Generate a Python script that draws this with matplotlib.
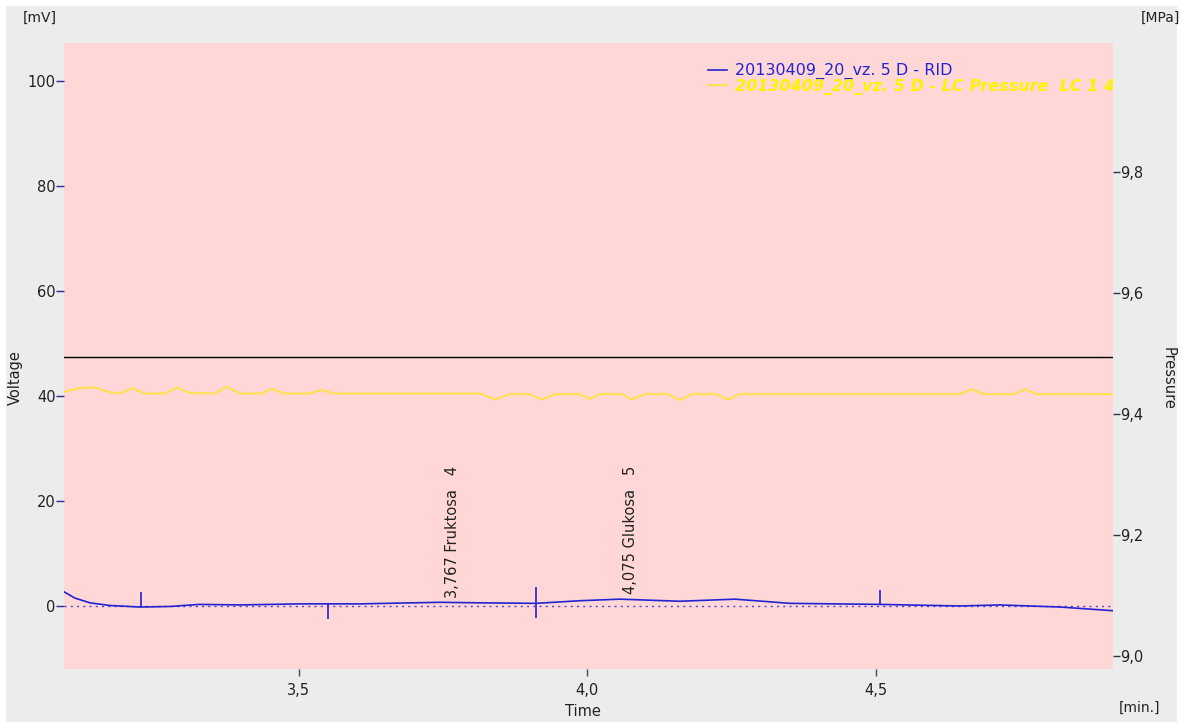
#chromatogram of the RID signal with the pump pressure trace

import matplotlib
matplotlib.use('Agg')
import matplotlib.pyplot as plt
from matplotlib.patches import Rectangle
from matplotlib.ticker import FuncFormatter

# RID signal [mV] vs time [min.]
rid_time = [3.093, 3.112, 3.138, 3.172, 3.224, 3.276, 3.328, 3.398, 3.502, 3.606,
            3.744, 3.814, 3.911, 3.987, 4.056, 4.160, 4.256, 4.351, 4.507, 4.646,
            4.715, 4.819, 4.911]
rid_mv = [2.7, 1.5, 0.6, 0.1, -0.2, -0.1, 0.3, 0.2, 0.4, 0.4,
          0.7, 0.6, 0.5, 1.0, 1.3, 0.9, 1.3, 0.5, 0.3, 0.0,
          0.2, -0.2, -0.9]

# pump pressure [MPa] vs time [min.]
p_time = [3.093, 3.120, 3.146, 3.172, 3.190, 3.211, 3.233, 3.268, 3.289, 3.311,
          3.354, 3.375, 3.398, 3.436, 3.453, 3.474, 3.519, 3.540, 3.561, 3.814,
          3.840, 3.866, 3.900, 3.921, 3.944, 3.987, 4.004, 4.022, 4.060, 4.077,
          4.100, 4.140, 4.160, 4.181, 4.223, 4.244, 4.264, 4.646, 4.666, 4.687,
          4.740, 4.758, 4.779, 4.911]
p_mpa = [9.437, 9.443, 9.444, 9.436, 9.434, 9.443, 9.434, 9.434, 9.444, 9.435,
         9.434, 9.445, 9.434, 9.434, 9.442, 9.434, 9.434, 9.440, 9.434, 9.434,
         9.424, 9.433, 9.433, 9.424, 9.433, 9.433, 9.425, 9.433, 9.433, 9.424,
         9.433, 9.433, 9.423, 9.433, 9.433, 9.424, 9.433, 9.433, 9.441, 9.433,
         9.433, 9.441, 9.433, 9.433]

# integration boundaries (time, low, high) [mV]
mark_time = [3.226, 3.550, 3.911, 4.507]
mark_low = [-0.2, -2.5, -2.3, 0.2]
mark_high = [2.7, 0.5, 3.6, 3.0]

# identified peaks
peak_time = [3.767, 4.075]
peak_mv = [0.7, 1.3]
peak_name = ['Fruktosa', 'Glukosa']
peak_no = [4, 5]

threshold_mv = 47.4

x_ticks = [3.5, 4.0, 4.5]
v_ticks = [0, 20, 40, 60, 80, 100]
p_ticks = [9.0, 9.2, 9.4, 9.6, 9.8]

blue = '#2323d2'
yellow = '#ffdf55'
pink = '#ffd7d7'
gray = '#ececec'
txt = '#222222'

plt.rcParams['font.family'] = 'DejaVu Sans'
plt.rcParams['font.size'] = 10

fig = plt.figure(figsize=(11.83, 7.22), dpi=100, facecolor='white')
fig.patches.append(Rectangle((6 / 1183, 0), 1171 / 1183, 716 / 722,
                             transform=fig.transFigure, facecolor=gray,
                             edgecolor='none', zorder=-10))

ax = fig.add_axes([64 / 1183, 53 / 722, 1049 / 1183, 626 / 722])
ax2 = ax.twinx()

ax.set_xlim(3.093, 4.911)
ax.set_ylim(-12, 107.2)
ax2.set_ylim(8.979, 10.013)

# pressure on the right axis, drawn under the signal
ax2.plot(p_time, p_mpa, color=yellow, lw=1.6,
         label='20130409_20_vz. 5 D - LC Pressure  LC 1 4')
ax.set_zorder(ax2.get_zorder() + 1)
ax.patch.set_visible(False)
ax2.patch.set_visible(True)
ax2.patch.set_facecolor(pink)

ax.axhline(threshold_mv, color='black', lw=1)
ax.axhline(0, color=blue, lw=1, ls=(0, (1.5, 3)), alpha=0.8)
sig, = ax.plot(rid_time, rid_mv, color=blue, lw=1.2, label='20130409_20_vz. 5 D - RID')
ax.vlines(mark_time, mark_low, mark_high, color=blue, lw=1.2)

for t, v, name, no in zip(peak_time, peak_mv, peak_name, peak_no):
    s = f'{t:.3f}'.replace('.', ',') + f' {name}   {no}'
    ax.text(t, v + 0.9, s, rotation=90, ha='center', va='bottom', color=txt, fontsize=10.5)

comma = FuncFormatter(lambda v, pos: f'{v:.1f}'.replace('.', ','))
ax.set_xticks(x_ticks)
ax.xaxis.set_major_formatter(comma)
ax.set_yticks(v_ticks)
ax2.set_yticks(p_ticks)
ax2.yaxis.set_major_formatter(comma)

ax.tick_params(axis='x', length=5, width=1, pad=5, color='#444466', labelcolor=txt, labelsize=10.5)
ax.tick_params(axis='y', length=6, width=1, pad=0, color='#2a2a90', labelcolor=txt, labelsize=10.5)
ax2.tick_params(axis='y', length=5, width=1, pad=0, color='#333344', labelcolor=txt, labelsize=10.5)

for a in (ax, ax2):
    for sp in a.spines.values():
        sp.set_visible(False)

p_line = ax2.get_lines()[0]
leg = ax.legend([sig, p_line], [sig.get_label(), p_line.get_label()],
                loc='upper left', bbox_to_anchor=(0.608, 0.978), frameon=False,
                handlelength=1.2, handletextpad=0.5, labelspacing=-0.05,
                fontsize=11.5, borderaxespad=0)
leg_txt = leg.get_texts()
leg_txt[0].set_color(blue)
leg_txt[1].set_color('#fff200')
leg_txt[1].set_fontstyle('italic')
leg_txt[1].set_fontweight('bold')
for t in leg_txt:
    t.set_clip_box(ax.bbox)
    t.set_clip_on(True)

fig.text(40 / 1183, 1 - 18 / 722, '[mV]', ha='center', va='center', color=txt, fontsize=10)
fig.text(1160 / 1183, 1 - 18 / 722, '[MPa]', ha='center', va='center', color=txt, fontsize=10)
fig.text(1140 / 1183, 1 - 708 / 722, '[min.]', ha='center', va='center', color=txt, fontsize=10)
fig.text(583 / 1183, 1 - 712 / 722, 'Time', ha='center', va='center', color=txt, fontsize=10.5)
fig.text(15 / 1183, 1 - 378 / 722, 'Voltage', ha='center', va='center', rotation=90, color=txt, fontsize=10.5)
fig.text(1168 / 1183, 1 - 378 / 722, 'Pressure', ha='center', va='center', rotation=270, color=txt, fontsize=10.5)

fig.savefig('out.png', dpi=100, facecolor=fig.get_facecolor())
